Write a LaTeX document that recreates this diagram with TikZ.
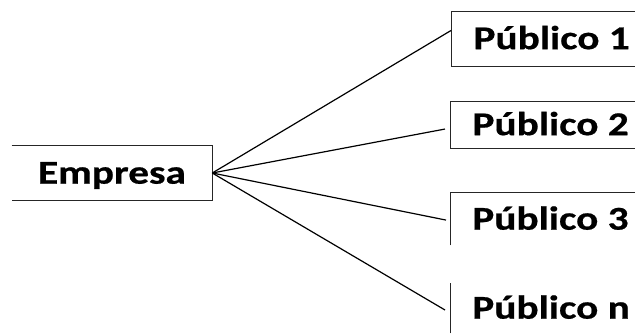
\documentclass[tikz,border=0pt]{standalone}
\usepackage{fontspec}
\newfontfamily\boxfont{Carlito}[FakeStretch=1.24, FakeBold=0.6]
\usetikzlibrary{positioning}
\tikzset{publico/.style = {anchor=west, inner xsep=16.5pt, inner ysep=0pt,
                           text height=16pt, text depth=0pt,
                           font=\boxfont\bfseries\fontsize{25}{29}\selectfont},
         boxline/.style = {line width=0.7pt, black!85},
         enlace/.style = {line width=0.9pt}}

\begin{document}
\begin{tikzpicture}[x=0.75pt, y=-0.75pt]
    \useasboundingbox (0, 0) rectangle (635, 333);

    \node [publico, anchor=center, minimum width=150pt, minimum height=40.5pt] (emp) at (112, 173) {Empresa};
    \draw [boxline] (emp.north west) -- (emp.north east) -- (emp.south east) -- (emp.south west);

    \node [publico, draw, boxline, text=black, minimum height=41.25pt] (p1) at (451, 38.5) {Público 1};
    \node [publico, draw, boxline, text=black, minimum height=35.25pt] (p2) at (450, 124.5) {Público 2};
    \node [publico, minimum height=39pt] (p3) at (450, 219) {Público 3};
    \node [publico, minimum height=37.5pt] (pn) at (450, 308) {Público n};
    \draw [boxline] (p3.south west) -- (p3.north west) -- (p3.north east);
    \draw [boxline] (pn.south west) -- (pn.north west);

    \draw [enlace] (emp.east) -- ([yshift=6pt]p1.west);
    \draw [enlace] (emp.east) -- ([xshift=-3.75pt, yshift=-3.4pt]p2.west);
    \draw [enlace] (emp.east) -- ([xshift=-3pt, yshift=-0.8pt]p3.west);
    \draw [enlace] (emp.east) -- ([xshift=-3.75pt, yshift=-1.5pt]pn.west);
  \end{tikzpicture}
\end{document}
